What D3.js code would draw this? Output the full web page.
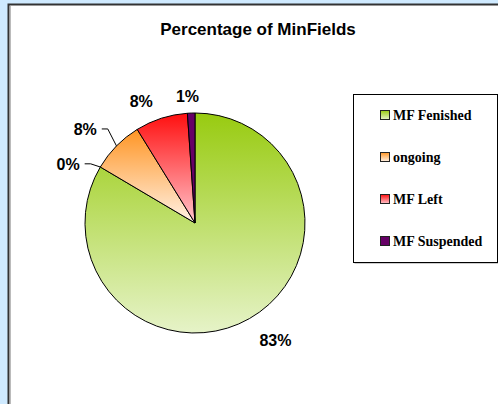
<!DOCTYPE html>
<html>
<head>
<meta charset="utf-8">
<title>Percentage of MinFields</title>
<script src="https://cdn.jsdelivr.net/npm/d3@7"></script>
<style>
  body { margin: 0; background: #cfeaff; }
  .title { font-family: Arial, "Liberation Sans", sans-serif; font-weight: bold; font-size: 17px; }
  .label { font-family: Arial, "Liberation Sans", sans-serif; font-weight: bold; font-size: 16px; }
  .legend text { font-family: "Times New Roman", "Liberation Serif", serif; font-weight: bold; font-size: 14px; }
</style>
</head>
<body>
<div id="chart"></div>
<script>
// data
var categories = ["MF Fenished", "", "ongoing", "MF Left", "MF Suspended"];
var values = [83.5, 0, 7.7, 7.7, 1.1];
var labels = ["83%", "0%", "8%", "8%", "1%"];
var legendNames = ["MF Fenished", "ongoing", "MF Left", "MF Suspended"];

// gradient stops (top, bottom) per slice
var fills = [["#98cb10", "#e6f3c8"], ["#b9dc66", "#b9dc66"], ["#ff9524", "#fff2e6"], ["#ff0f0f", "#ffc4cc"], ["#660066", "#660066"]];

var W = 498, H = 404;
var cx = 195, cy = 223, r = 110;

var svg = d3.select("#chart").append("svg")
  .attr("width", W).attr("height", H);

var defs = svg.append("defs");
fills.forEach(function (f, i) {
  var g = defs.append("linearGradient").attr("id", "g" + i)
    .attr("x1", 0).attr("y1", 0).attr("x2", 0).attr("y2", 1);
  g.append("stop").attr("offset", 0).attr("stop-color", f[0]);
  g.append("stop").attr("offset", 1).attr("stop-color", f[1]);
});

// white panel with dark border
svg.append("rect")
  .attr("x", 8.5).attr("y", 4.5).attr("width", W + 10).attr("height", H + 10)
  .attr("fill", "#fff").attr("stroke", "#333").attr("stroke-width", 2);
svg.append("line")
  .attr("x1", 10.5).attr("x2", 10.5).attr("y1", 6).attr("y2", H)
  .attr("stroke", "#bbb").attr("stroke-width", 1);

svg.append("text").attr("class", "title")
  .attr("x", 258).attr("y", 35).attr("text-anchor", "middle")
  .text("Percentage of MinFields");

// pie
var pie = d3.pie().sort(null).value(function (d) { return d; });
var arcs = pie(values);
var arc = d3.arc().innerRadius(0).outerRadius(r);

var g = svg.append("g").attr("transform", "translate(" + cx + "," + cy + ")");

g.selectAll("path.slice")
  .data(arcs.filter(function (d) { return d.value > 0; }))
  .enter().append("path")
  .attr("class", "slice")
  .attr("d", arc)
  .attr("fill", function (d) { return "url(#g" + d.index + ")"; })
  .attr("stroke", "#000")
  .attr("stroke-width", 1)
  .attr("stroke-linejoin", "round");

// data labels: placed outside the pie along the mid angle, nudged like the original
var nudge = [[16, 4], [-15, 7], [-17, -3], [-14, 2], [-3, 3]];
var leader = [false, true, true, false, false];

arcs.forEach(function (d, i) {
  var mid = (d.startAngle + d.endAngle) / 2;
  var p = d3.pointRadial(mid, 130);
  var x = p[0] + nudge[i][0], y = p[1] + nudge[i][1];
  var t = g.append("text").attr("class", "label")
    .attr("x", x).attr("y", y + 6)
    .attr("text-anchor", "middle")
    .text(labels[i]);
  if (leader[i]) {
    var w = t.node().getComputedTextLength();
    var right = x + w / 2;
    var edge = d3.pointRadial(mid, r);
    g.append("polyline")
      .attr("points", [[right + 5, y], [right + 11, y], edge].join(" "))
      .attr("fill", "none").attr("stroke", "#000").attr("stroke-width", 1);
  }
});

// legend
var lg = svg.append("g").attr("class", "legend");
var lx = 353, ly = 94, lw = 144, lh = 168;
lg.append("rect")
  .attr("x", lx + 1.5).attr("y", ly + 1.5).attr("width", lw).attr("height", lh)
  .attr("fill", "#999");
lg.append("rect")
  .attr("x", lx + 0.5).attr("y", ly + 0.5).attr("width", lw).attr("height", lh)
  .attr("fill", "#fff").attr("stroke", "#000").attr("stroke-width", 1);

var rows = d3.scaleBand().domain(legendNames).range([ly, ly + lh]);

legendNames.forEach(function (name) {
  var i = categories.indexOf(name);
  var yc = rows(name) + rows.bandwidth() / 2;
  lg.append("rect")
    .attr("x", 380.5).attr("y", yc - 4.5).attr("width", 9).attr("height", 9)
    .attr("fill", "url(#g" + i + ")").attr("stroke", "#222").attr("stroke-width", 1);
  lg.append("text")
    .attr("x", 393).attr("y", yc + 5)
    .text(name);
});
</script>
</body>
</html>
